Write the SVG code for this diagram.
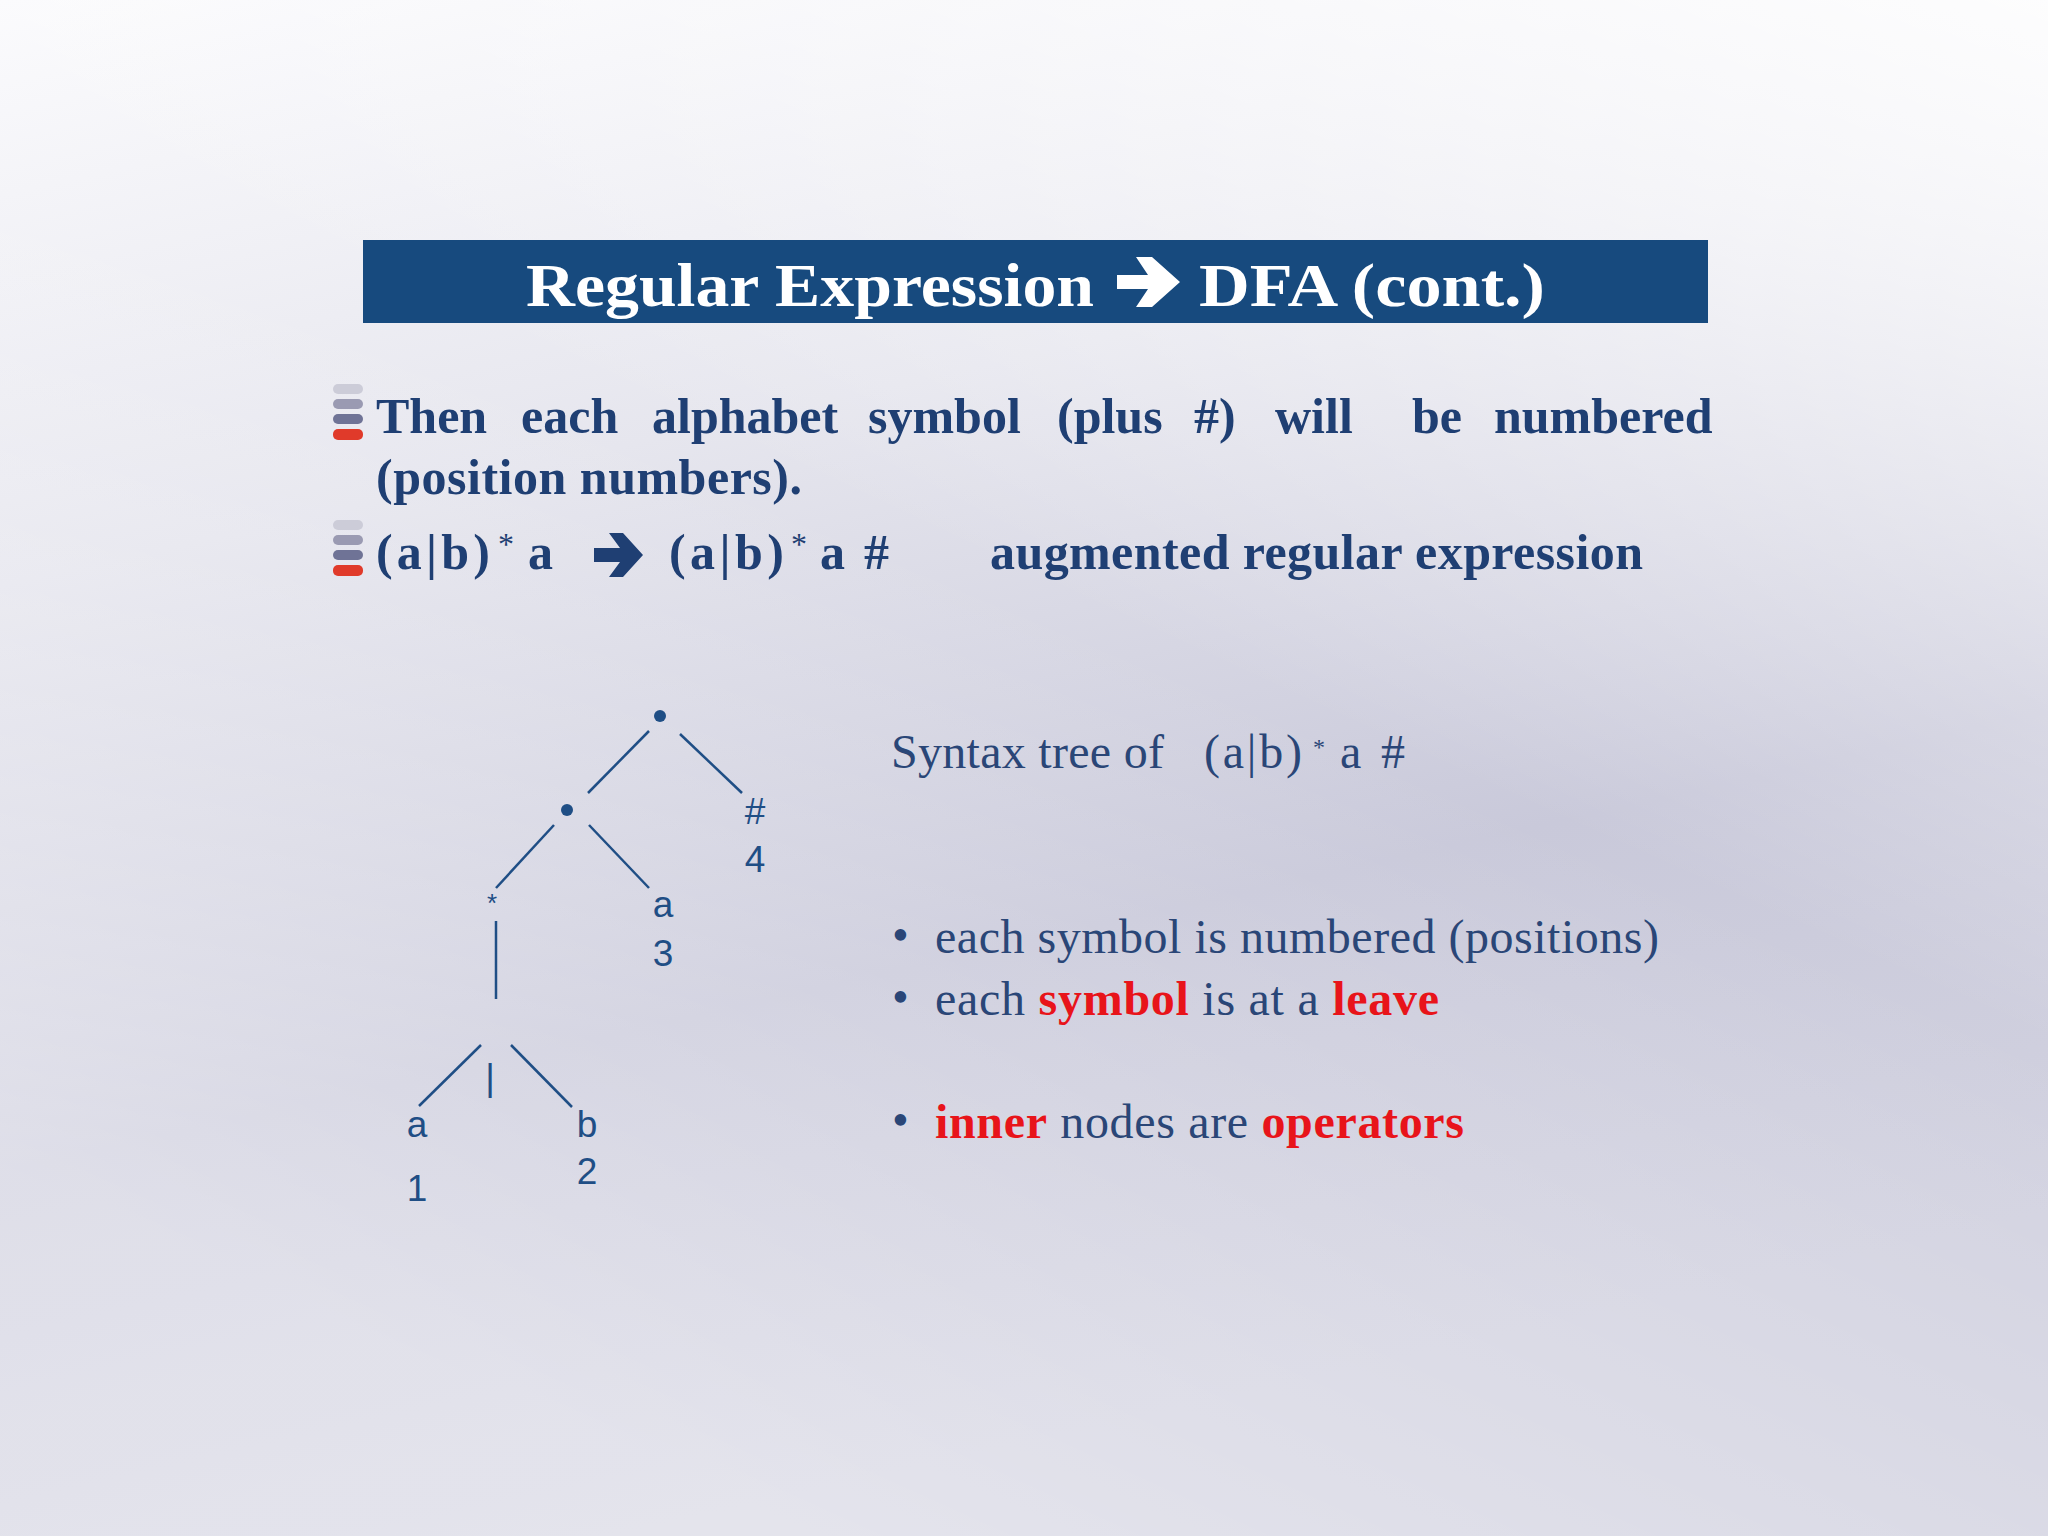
<svg xmlns="http://www.w3.org/2000/svg" width="2048" height="1536" viewBox="0 0 2048 1536">
<defs>
<linearGradient id="bg" x1="0" y1="0" x2="0.3" y2="1">
<stop offset="0" stop-color="#fbfbfd"/>
<stop offset="0.35" stop-color="#e6e6ee"/>
<stop offset="0.7" stop-color="#c9c9da"/>
<stop offset="1" stop-color="#d2d2e0"/>
</linearGradient>
<linearGradient id="sheen" x1="1" y1="0" x2="0.4" y2="1">
<stop offset="0" stop-color="#ffffff" stop-opacity="0.9"/>
<stop offset="0.5" stop-color="#ffffff" stop-opacity="0"/>
<stop offset="1" stop-color="#ffffff" stop-opacity="0.4"/>
</linearGradient>
<style>
.b{font-family:"Liberation Serif",serif;font-weight:bold;font-size:50px;fill:#1f3f73}
.s{font-family:"Liberation Serif",serif;font-size:32px;fill:#1f3f73}
.r{font-family:"Liberation Serif",serif;font-size:48px;fill:#2a4677}
.rs{font-family:"Liberation Serif",serif;font-size:24px;fill:#2a4677}
.red{fill:#e8141a;font-weight:bold}
.t{font-family:"Liberation Sans",sans-serif;font-size:37px;fill:#1f4e85;text-anchor:middle}
.e{stroke:#1f4e85;stroke-width:2.5;fill:none}
</style>
</defs>
<rect width="2048" height="1536" fill="url(#bg)"/>
<rect width="2048" height="1536" fill="url(#sheen)"/>
<g id="header">
<rect x="363" y="240" width="1345" height="83" fill="#174a7e"/>
<text x="526" y="306" font-family="Liberation Serif,serif" font-weight="bold" font-size="62" fill="#fff" textLength="568" lengthAdjust="spacingAndGlyphs">Regular Expression</text>
<polygon points="1117,275 1148,275 1136,257 1152,257 1180,282 1152,307 1136,307 1148,289 1117,289" fill="#fff"/>
<text x="1199" y="306" font-family="Liberation Serif,serif" font-weight="bold" font-size="62" fill="#fff" textLength="346" lengthAdjust="spacingAndGlyphs">DFA (cont.)</text>
</g>
<g id="bullets">
<g id="icon1"><rect x="333" y="384" width="30" height="10" rx="5" fill="#ccccd8"/><rect x="333" y="399" width="30" height="10" rx="5" fill="#9a9ab2"/><rect x="333" y="414" width="30" height="10" rx="5" fill="#6f7396"/><rect x="333" y="429" width="30" height="11" rx="5" fill="#e03a2a"/></g>
<g id="icon2"><rect x="333" y="520" width="30" height="10" rx="5" fill="#ccccd8"/><rect x="333" y="535" width="30" height="10" rx="5" fill="#9a9ab2"/><rect x="333" y="550" width="30" height="10" rx="5" fill="#6f7396"/><rect x="333" y="565" width="30" height="11" rx="5" fill="#e03a2a"/></g>
<text class="b" y="433"><tspan x="376">Then</tspan><tspan x="521">each</tspan><tspan x="652">alphabet</tspan><tspan x="868">symbol</tspan><tspan x="1057">(plus</tspan><tspan x="1194">#)</tspan><tspan x="1275">will</tspan><tspan x="1412">be</tspan><tspan x="1494">numbered</tspan></text>
<text class="b" x="376" y="494" textLength="426" lengthAdjust="spacing">(position numbers).</text>
<text class="b" x="376" y="569" textLength="114" lengthAdjust="spacing">(a|b)</text>
<text class="s" x="498" y="555">*</text>
<text class="b" x="528" y="569">a</text>
<polygon points="594,548 620,548 609,533 623,533 643,555 623,577 609,577 620,562 594,562" fill="#1f3f73"/>
<text class="b" x="669" y="569" textLength="115" lengthAdjust="spacing">(a|b)</text>
<text class="s" x="791" y="555">*</text>
<text class="b" x="820" y="569" textLength="69" lengthAdjust="spacing">a #</text>
<text class="b" x="990" y="569" textLength="653" lengthAdjust="spacing">augmented regular expression</text>
</g>
<g id="connectors">
<line class="e" x1="649" y1="731" x2="588" y2="793"/>
<line class="e" x1="680" y1="734" x2="742" y2="793"/>
<line class="e" x1="554" y1="825" x2="496" y2="888"/>
<line class="e" x1="589" y1="825" x2="649" y2="888"/>
<line class="e" x1="496" y1="921" x2="496" y2="999"/>
<line class="e" x1="481" y1="1045" x2="419" y2="1106"/>
<line class="e" x1="511" y1="1045" x2="572" y2="1107"/>
</g>
<g id="n-root"><circle cx="660" cy="716" r="6" fill="#1f4e85"/></g>
<g id="n-cat"><circle cx="567" cy="810" r="6" fill="#1f4e85"/></g>
<g id="n-hash"><text class="t" x="755" y="824">#</text><text class="t" x="755" y="872">4</text></g>
<g id="n-a3"><text class="t" x="663" y="917">a</text><text class="t" x="663" y="966">3</text></g>
<g id="n-star"><text class="t" x="492" y="912" style="font-size:26px">*</text></g>
<g id="n-or"><text class="t" x="490" y="1090">|</text></g>
<g id="n-a1"><text class="t" x="417" y="1137">a</text><text class="t" x="417" y="1201">1</text></g>
<g id="n-b2"><text class="t" x="587" y="1137">b</text><text class="t" x="587" y="1184">2</text></g>
<g id="notes">
<text class="r" x="891" y="768" textLength="273" lengthAdjust="spacing">Syntax tree of</text>
<text class="r" x="1204" y="768" textLength="98" lengthAdjust="spacing">(a|b)</text>
<text class="rs" x="1313" y="755">*</text>
<text class="r" x="1340" y="768" textLength="65" lengthAdjust="spacing">a #</text>
<text class="r" x="892" y="951">•</text>
<text class="r" x="935" y="953" textLength="724" lengthAdjust="spacing">each symbol is numbered (positions)</text>
<text class="r" x="892" y="1013">•</text>
<text class="r" x="935" y="1015" textLength="504" lengthAdjust="spacing">each <tspan class="red">symbol</tspan> is at a <tspan class="red">leave</tspan></text>
<text class="r" x="892" y="1136">•</text>
<text class="r" x="935" y="1138" textLength="529" lengthAdjust="spacing"><tspan class="red">inner</tspan> nodes are <tspan class="red">operators</tspan></text>
</g>
</svg>
